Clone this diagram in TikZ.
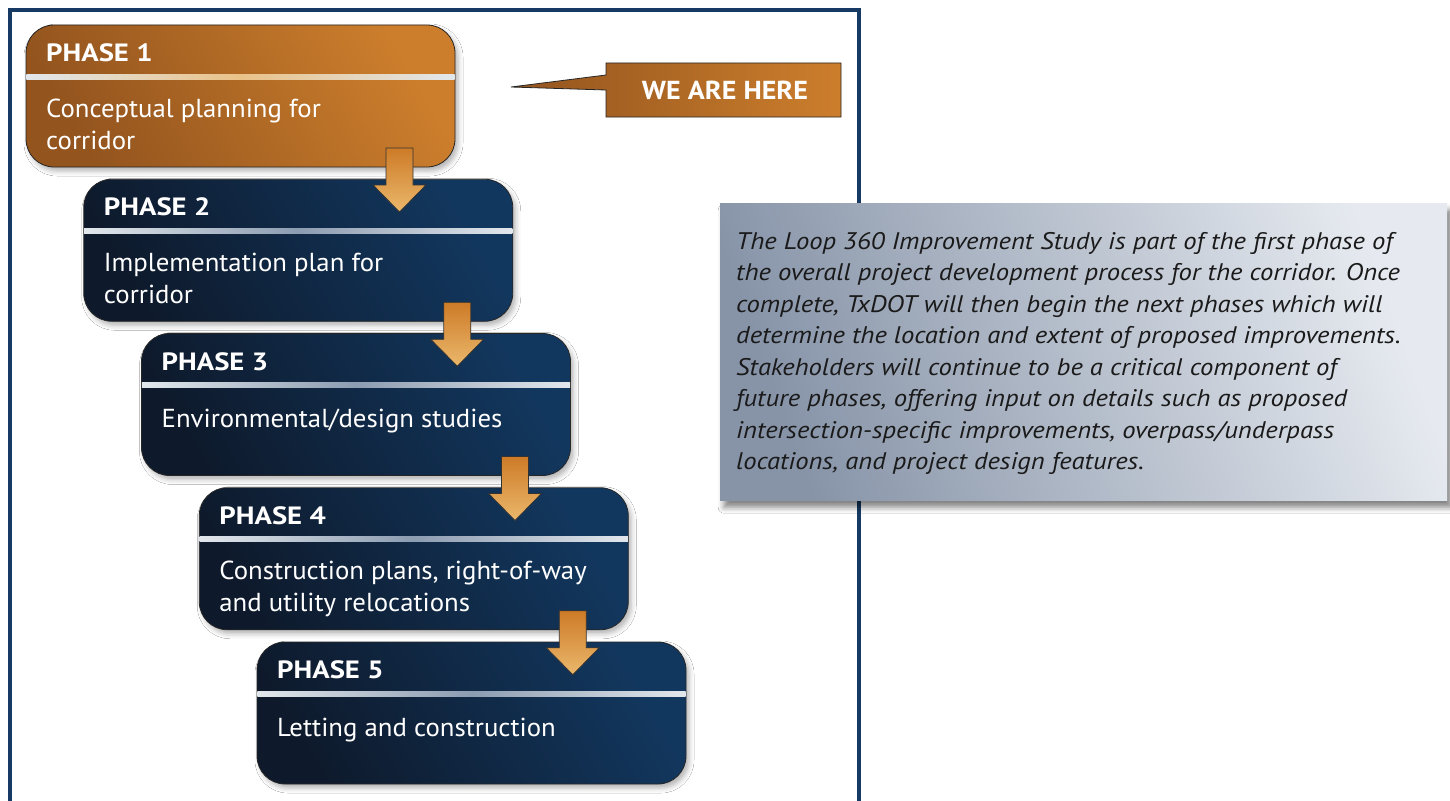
\documentclass[tikz,border=0pt]{standalone}
\usepackage{fontspec}
\setmainfont{PT Sans}
\newfontfamily\bodyfont[FakeStretch=1.03]{PT Sans}
\newfontfamily\titlefont[FakeStretch=1.15]{PT Sans}
\newfontfamily\callfont[FakeStretch=1.08]{PT Sans}
\newfontfamily\descfont[FakeStretch=1.11]{PT Sans}
\usetikzlibrary{shadows.blur,calc}
\definecolor{navyA}{HTML}{0E1A2C}
\definecolor{navyB}{HTML}{12375E}
\definecolor{orA}{HTML}{93541E}
\definecolor{orB}{HTML}{CC7E2C}
\definecolor{frameblue}{HTML}{163A63}
\definecolor{sepEnd}{HTML}{E2E7EC}
\definecolor{sepMidN}{HTML}{8C9CB1}
\definecolor{sepMidO}{HTML}{E9C288}
\definecolor{arrTop}{HTML}{CD7B27}
\definecolor{arrBot}{HTML}{EBB86C}
\definecolor{descA}{HTML}{8794A8}
\definecolor{descB}{HTML}{E6EAF0}
\definecolor{desctext}{HTML}{1A1A1A}
\begin{document}
\begin{tikzpicture}[x=1pt,y=-1pt,
  phasebox/.style={draw=black!85, line width=0.8pt, rounded corners=28pt,
    minimum width=429pt, minimum height=142pt, anchor=north west,
    inner sep=0pt, outer sep=0pt,
    blur shadow={shadow xshift=3pt, shadow yshift=-4pt, shadow opacity=30, shadow blur radius=5pt}},
  navybox/.style={phasebox, left color=navyA, right color=navyB, shading angle=120},
  orangebox/.style={phasebox, left color=orA, right color=orB, shading angle=120},
  titletext/.style={font=\titlefont\bfseries\fontsize{25}{28}\selectfont, text=white, anchor=base west, inner sep=0pt},
  bodytext/.style={font=\bodyfont\fontsize{26}{32}\selectfont, text=white, anchor=base west, inner sep=0pt, align=left},
  blockarrow/.style={draw=black!80, line width=0.8pt, top color=arrTop, bottom color=arrBot, line join=miter},
  frame/.style={draw=frameblue, line width=4pt},
  callout/.style={draw=black!85, line width=0.8pt, left color=orA, right color=orB},
  calltext/.style={font=\callfont\bfseries\fontsize{26}{30}\selectfont, text=white, inner sep=0pt},
  descbox/.style={anchor=north west, minimum width=727pt, minimum height=297pt, inner sep=0pt,
    left color=descA, right color=descB, shading angle=110,
    blur shadow={shadow xshift=4pt, shadow yshift=-7pt, shadow opacity=50, shadow blur radius=6pt}},
  desctextstyle/.style={font=\descfont\itshape\fontsize{24}{31.5}\selectfont, text=desctext, anchor=base west, inner sep=0pt, align=left}
]
\clip (0,0) rectangle (1450,800);
\fill[white] (0,0) rectangle (1450,800);
% frame
\draw[frame] (10,10.5) rectangle (858.5,830);

% phase boxes
\node[orangebox] (p1) at (26,25) {};
\node[navybox] (p2) at (83.75,179.25) {};
\node[navybox] (p3) at (141.5,333.5) {};
\node[navybox] (p4) at (199.25,487.75) {};
\node[navybox] (p5) at (257,642) {};

% separators
\shade[left color=sepEnd, right color=sepEnd, middle color=sepMidO]
  ($(p1.north west)+(0.4,49)$) rectangle ($(p1.north east)+(-0.4,54)$);
\foreach \p in {p2,p3,p4,p5}{
  \shade[left color=sepEnd, right color=sepEnd, middle color=sepMidN]
    ($(\p.north west)+(0.4,49)$) rectangle ($(\p.north east)+(-0.4,54)$);
}

% titles and texts (anchor base = baseline of last line)
\node[titletext] (t1) at ($(p1.north west)+(20,36.5)$) {PHASE 1};
\node[bodytext] (b1) at ($(p1.north west)+(20,124)$) {Conceptual planning for\\corridor};
\node[titletext] (t2) at ($(p2.north west)+(20,36.5)$) {PHASE 2};
\node[bodytext] (b2) at ($(p2.north west)+(20,124)$) {Implementation plan for\\corridor};
\node[titletext] (t3) at ($(p3.north west)+(20,36.5)$) {PHASE 3};
\node[bodytext] (b3) at ($(p3.north west)+(20,94)$) {Environmental/design studies};
\node[titletext] (t4) at ($(p4.north west)+(20,36.5)$) {PHASE 4};
\node[bodytext] (b4) at ($(p4.north west)+(20,124)$) {Construction plans, right-of-way\\and utility relocations};
\node[titletext] (t5) at ($(p5.north west)+(20,36.5)$) {PHASE 5};
\node[bodytext] (b5) at ($(p5.north west)+(20,94)$) {Letting and construction};

% block arrows
\foreach \a in {p1,p2,p3,p4}{
  \coordinate (at) at ($(\a.south east)+(-55.5,-19)$);
  \shade[blockarrow] (at) ++(-13.5,0) -- ++(27,0) -- ++(0,37) -- ++(13,0)
    -- ++(-26.5,27) -- ++(-26.5,-27) -- ++(13,0) -- cycle;
}

% callout
\shade[callout] (606,63) -- (841,63) -- (841,117) -- (606,117) -- (606,90) -- (511,87) -- (606,75) -- cycle;
\node[calltext] (here) at (725,90) {WE ARE HERE};

% description box
\node[descbox] (desc) at (720,203) {};
\node[desctextstyle] (dtext) at (736,469.5) {The Loop 360 Improvement Study is part of the first phase of\\
the overall project development process for the corridor. Once\\
complete, TxDOT will then begin the next phases which will\\
determine the location and extent of proposed improvements.\\
Stakeholders will continue to be a critical component of\\
future phases, offering input on details such as proposed\\
intersection-specific improvements, overpass/underpass\\
locations, and project design features.};
\end{tikzpicture}
\end{document}
